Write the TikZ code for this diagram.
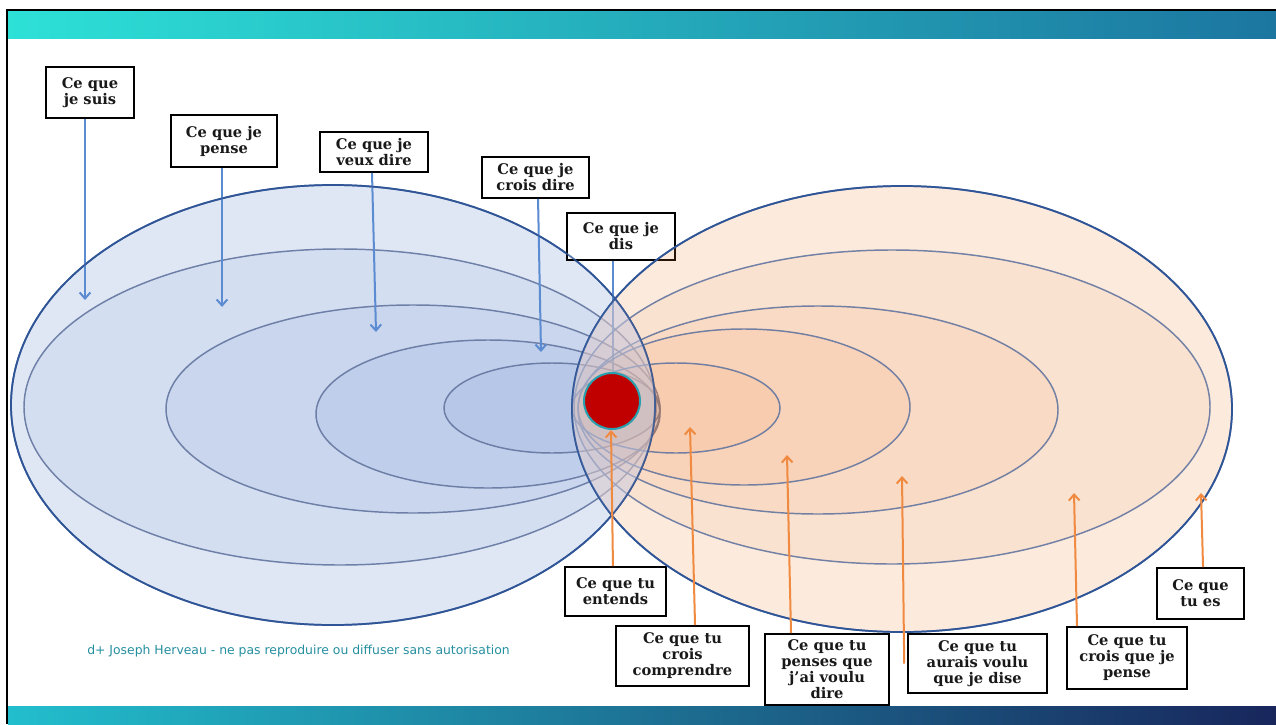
\documentclass[tikz,border=0pt]{standalone}
\usepackage{fontspec}
\usetikzlibrary{arrows.meta}
\newfontfamily\boxfont{DejaVu Serif}
\newfontfamily\footfont{DejaVu Sans}
\definecolor{lblue}{RGB}{68,114,196}
\definecolor{lorange}{RGB}{237,125,49}
\definecolor{edgeout}{RGB}{47,85,151}
\definecolor{edgein}{RGB}{100,118,160}
\definecolor{lensc}{RGB}{222,220,235}
\definecolor{arrblue}{RGB}{91,139,208}
\definecolor{arrorange}{RGB}{240,138,64}
\definecolor{dotred}{RGB}{192,0,0}
\definecolor{dotrim}{RGB}{40,160,175}
\definecolor{foottxt}{RGB}{38,143,160}
\definecolor{topL}{RGB}{45,225,215}
\definecolor{topR}{RGB}{28,118,160}
\definecolor{botL}{RGB}{34,190,205}
\definecolor{botR}{RGB}{24,38,92}
\tikzset{
  labelbox/.style={draw=black, line width=1.2pt, fill=white, align=center, inner sep=0pt,
     text=black!90, font=\boxfont\bfseries\fontsize{11}{12}\selectfont},
  outerL/.style={draw=edgeout, line width=1.3pt, fill=lblue, fill opacity=0.17},
  innerL/.style={draw=edgein, draw opacity=0.9, line width=1.1pt, fill=lblue, fill opacity=0.07},
  outerR/.style={draw=edgeout, line width=1.3pt, fill=lorange, fill opacity=0.16},
  innerR/.style={draw=edgein, draw opacity=0.9, line width=1.1pt, fill=lorange, fill opacity=0.07},
  barrow/.style={draw=arrblue, line width=1.5pt, -{Straight Barb[length=4.5pt,width=8pt]}},
  oarrow/.style={draw=arrorange, line width=1.5pt, -{Straight Barb[length=4.5pt,width=8pt]}},
}
\begin{document}
\begin{tikzpicture}[x=0.75pt,y=-0.75pt]
\useasboundingbox (0,0) rectangle (1276,724);
\fill[white] (0,0) rectangle (1276,724);
% bars
\shade[left color=topL, right color=topR] (8,11) rectangle (1276,39);
\shade[left color=botL, right color=botR] (8,706) rectangle (1276,724);
\draw[black, line width=2pt] (6,10) -- (1276,10);
\draw[black, line width=2pt] (7,9) -- (7,724);
% left ellipses
\path[outerL] (333,405) ellipse [x radius=322, y radius=220];
\path[innerL] (340,407) ellipse [x radius=316, y radius=158];
\path[innerL] (413,409) ellipse [x radius=247, y radius=104];
\path[innerL] (488,414) ellipse [x radius=172, y radius=74];
\path[innerL] (552,408) ellipse [x radius=108, y radius=45];
% boxes
\node[labelbox, minimum width=66pt, minimum height=38.25pt] (b1) at (90,92.5) {Ce que\\je suis};
\node[labelbox, minimum width=79.5pt, minimum height=39pt] (b2) at (224,141) {Ce que je\\pense};
\node[labelbox, minimum width=81pt, minimum height=30pt] (b3) at (374,152) {Ce que je\\veux dire};
\node[labelbox, minimum width=80.25pt, minimum height=30.75pt] (b4) at (535.5,177.5) {Ce que je\\crois dire};
\node[labelbox, minimum width=81pt, minimum height=35.25pt] (b5) at (621,236.5) {Ce que je\\dis};
\node[labelbox, minimum width=75.75pt, minimum height=36.75pt] (b6) at (615.5,591.5) {Ce que tu\\entends};
\node[labelbox, minimum width=99.75pt, minimum height=45pt] (b7) at (682.5,656) {Ce que tu\\crois\\comprendre};
\node[labelbox, minimum width=93pt, minimum height=53.25pt] (b8) at (827,669.5) {Ce que tu\\penses que\\j’ai voulu\\dire};
\node[labelbox, minimum width=104.25pt, minimum height=44.25pt] (b9) at (977.5,663.5) {Ce que tu\\aurais voulu\\que je dise};
\node[labelbox, minimum width=90pt, minimum height=46.5pt] (b10) at (1127,658) {Ce que tu\\crois que je\\pense};
\node[labelbox, minimum width=65.25pt, minimum height=38.25pt] (b11) at (1200.5,593.5) {Ce que\\tu es};
% arrow end coordinates
\coordinate (e1) at (85,300);
\coordinate (e2) at (222,307);
\coordinate (e3) at (376,332);
\coordinate (e4) at (541,352);
\coordinate (e6) at (611,430);
\coordinate (e7) at (690,427);
\coordinate (e8) at (787,455);
\coordinate (e9) at (902,476);
\coordinate (e10) at (1074,493);
\coordinate (e11) at (1201,493);
\coordinate (dottop) at (613,374);
% blue arrows
\draw[barrow] ([xshift=-3.75pt]b1.south) -- (e1);
\draw[barrow] ([xshift=-1.5pt]b2.south) -- (e2);
\draw[barrow] ([xshift=-1.5pt]b3.south) -- (e3);
\draw[barrow] ([xshift=1.9pt]b4.south) -- (e4);
\draw[draw=arrblue, line width=1.5pt] ([xshift=-6pt]b5.south) -- (dottop);
% right ellipses
\path[outerR] (902,409) ellipse [x radius=330, y radius=223];
\path[innerR] (892,407) ellipse [x radius=318, y radius=157];
\path[innerR] (818,410) ellipse [x radius=240, y radius=104];
\path[innerR] (744,407) ellipse [x radius=166, y radius=78];
\path[innerR] (676,408) ellipse [x radius=104, y radius=45];
% lens lightening
\begin{scope}
  \clip (333,405) ellipse [x radius=322, y radius=220];
  \fill[lensc, fill opacity=0.45] (902,409) ellipse [x radius=330, y radius=223];
\end{scope}
\draw[edgeout, line width=1.3pt, draw opacity=0.8] (333,405) ellipse [x radius=322, y radius=220];
\draw[edgeout, line width=1.3pt, draw opacity=0.8] (902,409) ellipse [x radius=330, y radius=223];
% orange arrows
\draw[oarrow] ([xshift=-1.9pt]b6.north) -- (e6);
\draw[oarrow] ([xshift=9.4pt]b7.north) -- (e7);
\draw[oarrow] ([xshift=-27pt]b8.north) -- (e8);
\draw[oarrow] ([xshift=-2.25pt]b9.west) -- (e9);
\draw[oarrow] ([xshift=-37.5pt]b10.north) -- (e10);
\draw[oarrow] ([xshift=1.9pt]b11.north) -- (e11);
% red dot
\node[circle, fill=dotred, draw=dotrim, line width=1.5pt, minimum size=42pt, inner sep=0pt] (dot) at (612,401) {};
% footer
\node[anchor=west, text=foottxt, font=\footfont\fontsize{9.3}{11}\selectfont, inner sep=0pt] (foot) at (87,651) {d+ Joseph Herveau - ne pas reproduire ou diffuser sans autorisation};
\end{tikzpicture}
\end{document}
